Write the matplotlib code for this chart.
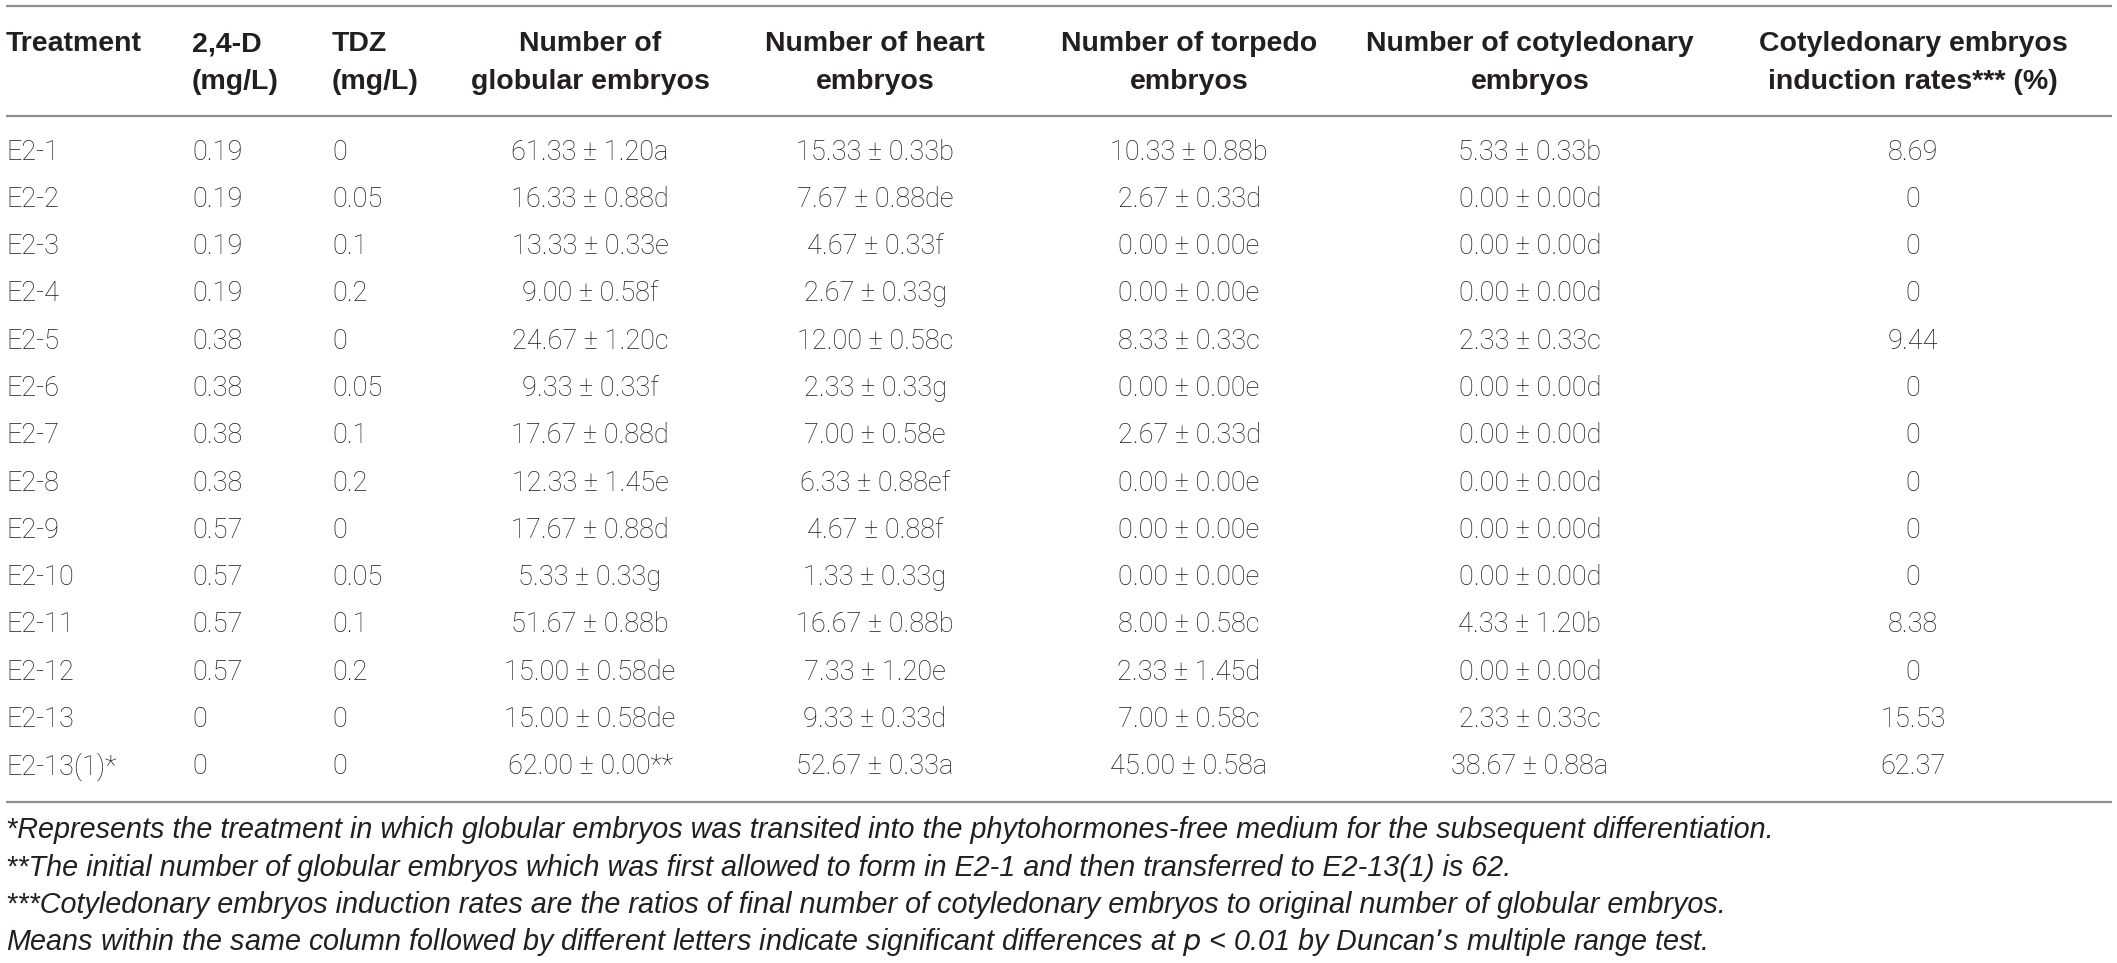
import matplotlib
matplotlib.use("Agg")
import matplotlib.pyplot as plt

W, H = 2117, 963

treatments = ["E2-1", "E2-2", "E2-3", "E2-4", "E2-5", "E2-6", "E2-7", "E2-8",
              "E2-9", "E2-10", "E2-11", "E2-12", "E2-13", "E2-13(1)*"]
d24 = ["0.19", "0.19", "0.19", "0.19", "0.38", "0.38", "0.38", "0.38",
       "0.57", "0.57", "0.57", "0.57", "0", "0"]
tdz = ["0", "0.05", "0.1", "0.2", "0", "0.05", "0.1", "0.2",
       "0", "0.05", "0.1", "0.2", "0", "0"]
globular = ["61.33 \u00b1 1.20a", "16.33 \u00b1 0.88d", "13.33 \u00b1 0.33e", "9.00 \u00b1 0.58f",
            "24.67 \u00b1 1.20c", "9.33 \u00b1 0.33f", "17.67 \u00b1 0.88d", "12.33 \u00b1 1.45e",
            "17.67 \u00b1 0.88d", "5.33 \u00b1 0.33g", "51.67 \u00b1 0.88b", "15.00 \u00b1 0.58de",
            "15.00 \u00b1 0.58de", "62.00 \u00b1 0.00**"]
heart = ["15.33 \u00b1 0.33b", "7.67 \u00b1 0.88de", "4.67 \u00b1 0.33f", "2.67 \u00b1 0.33g",
         "12.00 \u00b1 0.58c", "2.33 \u00b1 0.33g", "7.00 \u00b1 0.58e", "6.33 \u00b1 0.88ef",
         "4.67 \u00b1 0.88f", "1.33 \u00b1 0.33g", "16.67 \u00b1 0.88b", "7.33 \u00b1 1.20e",
         "9.33 \u00b1 0.33d", "52.67 \u00b1 0.33a"]
torpedo = ["10.33 \u00b1 0.88b", "2.67 \u00b1 0.33d", "0.00 \u00b1 0.00e", "0.00 \u00b1 0.00e",
           "8.33 \u00b1 0.33c", "0.00 \u00b1 0.00e", "2.67 \u00b1 0.33d", "0.00 \u00b1 0.00e",
           "0.00 \u00b1 0.00e", "0.00 \u00b1 0.00e", "8.00 \u00b1 0.58c", "2.33 \u00b1 1.45d",
           "7.00 \u00b1 0.58c", "45.00 \u00b1 0.58a"]
cotyledonary = ["5.33 \u00b1 0.33b", "0.00 \u00b1 0.00d", "0.00 \u00b1 0.00d", "0.00 \u00b1 0.00d",
                "2.33 \u00b1 0.33c", "0.00 \u00b1 0.00d", "0.00 \u00b1 0.00d", "0.00 \u00b1 0.00d",
                "0.00 \u00b1 0.00d", "0.00 \u00b1 0.00d", "4.33 \u00b1 1.20b", "0.00 \u00b1 0.00d",
                "2.33 \u00b1 0.33c", "38.67 \u00b1 0.88a"]
rates = ["8.69", "0", "0", "0", "9.44", "0", "0", "0", "0", "0", "8.38", "0", "15.53", "62.37"]

headers = [("Treatment", ""), ("2,4-D", "(mg/L)"), ("TDZ", "(mg/L)"),
           ("Number of", "globular embryos"), ("Number of heart", "embryos"),
           ("Number of torpedo", "embryos"), ("Number of cotyledonary", "embryos"),
           ("Cotyledonary embryos", "induction rates*** (%)")]

footnotes = [
    "*Represents the treatment in which globular embryos was transited into the phytohormones-free medium for the subsequent differentiation.",
    "**The initial number of globular embryos which was first allowed to form in E2-1 and then transferred to E2-13(1) is 62.",
    "***Cotyledonary embryos induction rates are the ratios of final number of cotyledonary embryos to original number of globular embryos.",
    "Means within the same column followed by different letters indicate significant differences at $p$ < 0.01 by Duncan\u2019s multiple range test.",
]

columns = [treatments, d24, tdz, globular, heart, torpedo, cotyledonary, rates]

# layout (pixels)
col_x = [6, 192, 332, 590, 875, 1189, 1530, 1913]
col_ha = ["left", "left", "left", "center", "center", "center", "center", "center"]
row_y0, row_dy = 152, 47.3
hdr_y = [44, 82]
rule_top, rule_hdr, rule_bot = 6, 116, 802
fn_y0, fn_dy = 830, 37.5

fig = plt.figure(figsize=(W / 100, H / 100), dpi=100)
fig.patch.set_facecolor("white")
ax = fig.add_axes([0, 0, 1, 1])
ax.set_xlim(0, W)
ax.set_ylim(H, 0)
ax.axis("off")

body_font = dict(family=["Roboto", "DejaVu Sans"], fontweight="light", color="#1e1b1c")
head_font = dict(family=["Liberation Sans Narrow", "Liberation Sans", "DejaVu Sans"],
                 fontweight="bold", color="#231f20")
foot_font = dict(family=["Liberation Sans Narrow", "Liberation Sans", "DejaVu Sans"],
                 style="italic", color="#231f20")

for y in (rule_top, rule_hdr, rule_bot):
    ax.plot([6, 2112], [y, y], color="#8c8c8c", lw=1.6, solid_capstyle="butt")

for (l1, l2), x, ha in zip(headers, col_x, col_ha):
    ax.text(x, hdr_y[0], l1, ha=ha, va="center", fontsize=20.5, **head_font)
    if l2:
        ax.text(x, hdr_y[1], l2, ha=ha, va="center", fontsize=20.5, **head_font)

for vals, x, ha in zip(columns, col_x, col_ha):
    for i, v in enumerate(vals):
        ax.text(x, row_y0 + i * row_dy, v, ha=ha, va="center", fontsize=19.5, **body_font)

for i, t in enumerate(footnotes):
    ax.text(6, fn_y0 + i * fn_dy, t, ha="left", va="center", fontsize=20.7, **foot_font)

fig.savefig("out.png", dpi=100, facecolor="white")
